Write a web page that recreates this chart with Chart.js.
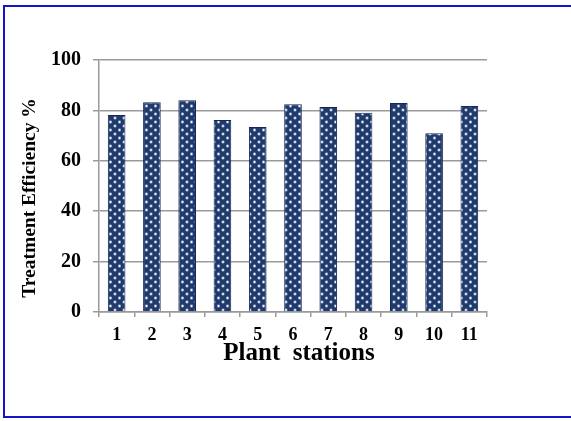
<!DOCTYPE html>
<html>
<head>
<meta charset="utf-8">
<script src="https://cdn.jsdelivr.net/npm/chart.js@4/dist/chart.umd.min.js"></script>
<style>
  html, body { margin: 0; padding: 0; background: #fff; overflow: hidden; }
  #wrap { position: relative; width: 571px; height: 421px; }
  #frame { position: absolute; left: 3px; top: 5px; width: 600px; height: 413px;
           border: 2px solid #1414c8; border-right: none; box-sizing: border-box; }
  canvas { position: absolute; left: 0; top: 0; }
</style>
</head>
<body>
<div id="wrap">
  <div id="frame"></div>
  <canvas id="c" width="571" height="421"></canvas>
</div>
<script>
const categories = ['1', '2', '3', '4', '5', '6', '7', '8', '9', '10', '11'];
const efficiency = [78.2, 83.2, 84.0, 76.2, 73.4, 82.4, 81.3, 79.1, 82.9, 70.9, 81.7];
const yTickValues = [0, 20, 40, 60, 80, 100];
const xTitle = 'Plant  stations';
const yTitle = 'Treatment Efficiency %';

function makePattern() {
  const p = document.createElement('canvas');
  p.width = 9; p.height = 8;
  const g = p.getContext('2d');
  g.fillStyle = '#1f3a6c';
  g.fillRect(0, 0, 9, 8);
  const dots = [[2.5, 2], [7, 6]];
  dots.forEach(([x, y]) => {
    g.fillStyle = 'rgba(200,210,230,0.55)';
    g.beginPath(); g.arc(x, y, 1.7, 0, Math.PI * 2); g.fill();
    g.fillStyle = '#ffffff';
    g.beginPath(); g.arc(x, y, 0.9, 0, Math.PI * 2); g.fill();
  });
  return document.getElementById('c').getContext('2d').createPattern(p, 'repeat');
}

const serif = "'Liberation Serif', 'Times New Roman', serif";

// Axis titles drawn as text, placed relative to the chart area
const axisTitles = {
  id: 'axisTitles',
  afterDraw(chart) {
    const { ctx, chartArea } = chart;
    ctx.save();
    ctx.fillStyle = '#000';
    ctx.textAlign = 'center';
    ctx.textBaseline = 'alphabetic';
    ctx.font = "bold 25px " + serif;
    ctx.fillText(xTitle, (chartArea.left + chartArea.right) / 2 + 6, chartArea.bottom + 48);
    ctx.textBaseline = 'middle';
    ctx.translate(30, (chartArea.top + chartArea.bottom) / 2 + 12);
    ctx.rotate(-Math.PI / 2);
    ctx.font = "bold 19.5px " + serif;
    ctx.fillText(yTitle, 0, 0);
    ctx.restore();
  }
};

new Chart(document.getElementById('c'), {
  type: 'bar',
  data: {
    labels: categories,
    datasets: [{
      data: efficiency,
      backgroundColor: makePattern(),
      borderColor: '#14295a',
      borderWidth: 1,
      categoryPercentage: 1.0,
      barPercentage: 0.5
    }]
  },
  plugins: [axisTitles],
  options: {
    responsive: false,
    animation: false,
    layout: { padding: { left: 0, right: 84, top: 60, bottom: 0 } },
    plugins: { legend: { display: false }, tooltip: { enabled: false } },
    scales: {
      x: {
        afterFit: (s) => { s.height = 109; },
        grid: { display: true, drawOnChartArea: false, drawTicks: true, tickLength: 5,
                color: '#9a9a9a', lineWidth: 1.5, offset: true },
        border: { display: true, color: '#9a9a9a', width: 1.5 },
        ticks: { color: '#000', padding: 8, font: { family: serif, size: 18, weight: 'bold' } }
      },
      y: {
        min: 0, max: 100,
        afterFit: (s) => { s.width = 99; },
        afterBuildTicks: (s) => { s.ticks = yTickValues.map(v => ({ value: v })); },
        grid: { color: '#9a9a9a', lineWidth: 1.5, tickLength: 6 },
        border: { display: true, color: '#9a9a9a', width: 1.5 },
        ticks: { color: '#000', padding: 12, font: { family: serif, size: 20, weight: 'bold' } }
      }
    }
  }
});
</script>
</body>
</html>
